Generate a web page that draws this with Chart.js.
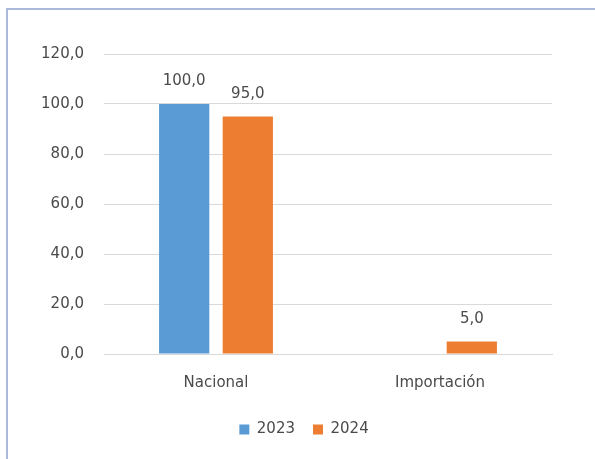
<!DOCTYPE html>
<html>
<head>
<meta charset="utf-8">
<script src="https://cdn.jsdelivr.net/npm/chart.js@4/dist/chart.umd.min.js"></script>
<style>
html,body{margin:0;padding:0;background:#fff;}
#frame{position:absolute;left:6px;top:8px;width:589px;height:451px;border-top:2px solid #aab9dc;border-left:2px solid #aab9dc;box-sizing:border-box;}
#wrap{position:absolute;left:0;top:0;width:595px;height:459px;}
</style>
</head>
<body>
<div id="frame"></div>
<div id="wrap"><canvas id="c" width="595" height="459"></canvas></div>
<script>
const categories = ["Nacional", "Importación"];
const seriesNames = ["2023", "2024"];
const values2023 = [100.0, null];
const values2024 = [95.0, 5.0];
const yTicks = [0, 20, 40, 60, 80, 100, 120];

const fmt = v => v.toFixed(1).replace('.', ',');
const FONT = "'DejaVu Sans', sans-serif";
const TXT = '#4a4a4a';
const FS = 15;

const legendShift = {
  id: 'legendShift',
  afterLayout(chart) {
    const lg = chart.legend;
    if (lg) { lg.left += 18; lg.right += 18; }
  }
};

const labelPlugin = {
  id: 'dataLabels',
  afterDatasetsDraw(chart) {
    const ctx = chart.ctx;
    ctx.save();
    ctx.font = FS + "px " + FONT;
    ctx.fillStyle = TXT;
    ctx.textAlign = 'center';
    ctx.textBaseline = 'alphabetic';
    chart.data.datasets.forEach((ds, i) => {
      const meta = chart.getDatasetMeta(i);
      meta.data.forEach((el, j) => {
        const v = ds.data[j];
        if (v === null || v === undefined) return;
        ctx.fillText(fmt(v), el.x, el.y - 19);
      });
    });
    ctx.restore();
  }
};

new Chart(document.getElementById('c'), {
  type: 'bar',
  data: {
    labels: categories,
    datasets: [
      { label: seriesNames[0], data: values2023, backgroundColor: '#5b9bd5', categoryPercentage: 0.568, barPercentage: 0.79 },
      { label: seriesNames[1], data: values2024, backgroundColor: '#ed7d31', categoryPercentage: 0.568, barPercentage: 0.79 }
    ]
  },
  options: {
    responsive: false,
    animation: false,
    layout: { padding: { left: 20, right: 43, top: 54, bottom: 12 } },
    plugins: {
      legend: {
        position: 'bottom',
        labels: {
          font: { size: FS, family: FONT },
          color: TXT,
          boxWidth: 10,
          boxHeight: 10,
          padding: 18
        }
      },
      tooltip: { enabled: false }
    },
    scales: {
      x: {
        grid: { display: false },
        border: { display: true, color: '#d9d9d9' },
        ticks: { font: { size: FS, family: FONT }, color: TXT, padding: 12 }
      },
      y: {
        min: 0, max: 120,
        afterBuildTicks: axis => { axis.ticks = yTicks.map(v => ({ value: v })); },
        afterFit: axis => { axis.width = 84; },
        grid: { color: '#d9d9d9', drawTicks: false },
        border: { display: false },
        ticks: { font: { size: FS, family: FONT }, color: TXT, padding: 20, callback: v => fmt(v) }
      }
    }
  },
  plugins: [legendShift, labelPlugin]
});
</script>
</body>
</html>
